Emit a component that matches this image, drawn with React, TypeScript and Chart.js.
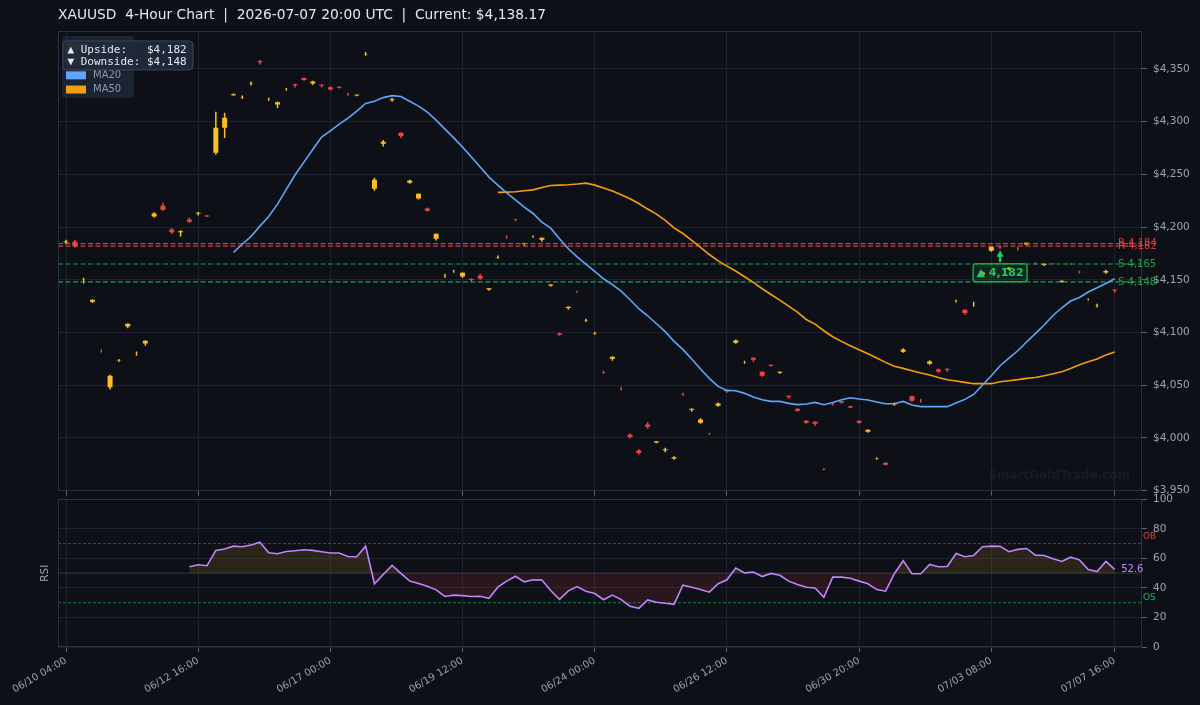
import React, { useEffect, useRef } from 'react';
import { Chart, registerables } from 'chart.js';

Chart.register(...registerables);
Chart.defaults.font.family = '"DejaVu Sans", sans-serif';

// ---------- colours ----------
const BG = '#0d1117';
const GRID = '#1c2230';
const FRAME = '#2a3240';
const TICK_MARK = '#5b6472';
const TICK_TEXT = '#9aa3b0';
const BULL = '#fbbf24';
const BEAR = '#ef4444';
const MA20_COLOR = '#60a5fa';
const MA50_COLOR = '#f59e0b';
const RSI_COLOR = '#c084fc';
const SUP = '#22c55e';

// ---------- text ----------
const TITLE = 'XAUUSD  4-Hour Chart  |  2026-07-07 20:00 UTC  |  Current: $4,138.17';
const WATERMARK = 'SmartGoldTrade.com';

// ---------- data ----------
const xTickIdx = [0, 15, 30, 45, 60, 75, 90, 105, 119];
const xTickLabels = ['06/10 04:00', '06/12 16:00', '06/17 00:00', '06/19 12:00', '06/24 00:00', '06/26 12:00', '06/30 20:00', '07/03 08:00', '07/07 16:00'];

const opens = [
  4185.3, 4186, 4149, 4129.2, 4082.5, 4048, 4073.5, 4105.8, 4080, 4089.7,
  4210, 4220.2, 4197.7, 4195, 4207.2, 4212.8, 4211, 4270.4, 4294.1, 4325,
  4323, 4336, 4357.2, 4321, 4316.3, 4330.5, 4335.5, 4341.5, 4336.1, 4335.2,
  4332.6, 4333.2, 4326, 4324.8, 4364, 4236.3, 4279, 4320.3, 4289.4, 4242,
  4227.1, 4217.6, 4189, 4153.8, 4158, 4153.2, 4151, 4153.8, 4140.7, 4171.5,
  4190.6, 4206.9, 4183.9, 4191, 4188, 4144.5, 4099, 4123.3, 4138.7, 4111.5,
  4099.4, 4062.5, 4075.2, 4047, 4003, 3988.2, 4012.9, 3995.6, 3988.3, 3980.6,
  4041.6, 4026.8, 4014.5, 4004.1, 4030.6, 4045.5, 4090.3, 4071.8, 4076.1, 4062.8,
  4069.5, 4061.9, 4040.1, 4027.8, 4016.4, 4015.5, 3970.3, 4032.2, 4035, 4030,
  4016.4, 4006, 3980.4, 3976.6, 4031.8, 4081.8, 4039.5, 4035.6, 4070.4, 4065,
  4065.7, 4129.8, 4121.6, 4127, 4155, 4177.5, 4181, 4160, 4179.5, 4183.5,
  4165.3, 4164, 4165.2, 4147.9, 4164.9, 4157.4, 4131.3, 4125.5, 4157, 4140.9,
];
const highs = [
  4188, 4188, 4152, 4131.3, 4084, 4060, 4075, 4108.5, 4082, 4092.5,
  4214, 4223, 4199, 4197, 4209, 4214.2, 4211.5, 4309.3, 4308.4, 4326.6,
  4324.7, 4338, 4358.4, 4322.6, 4319.1, 4332, 4336, 4341.7, 4338.7, 4335.3,
  4333.6, 4333.4, 4327.5, 4326, 4366, 4246.7, 4282.7, 4322.6, 4289.6, 4244.8,
  4231.8, 4218.6, 4193.8, 4155.7, 4159.5, 4157, 4151.3, 4155.7, 4142, 4173,
  4192, 4208, 4185.1, 4192, 4190, 4145.8, 4100, 4124.7, 4139.6, 4113,
  4100.8, 4063.8, 4077.3, 4048.6, 4004.4, 3989.2, 4014.8, 3997, 3990.8, 3982.6,
  4043, 4028, 4018.6, 4005, 4033.7, 4046, 4093.5, 4073.3, 4076.3, 4063,
  4069.8, 4063, 4040.3, 4028, 4016.6, 4015.7, 3971.3, 4033.6, 4035.3, 4030.6,
  4016.6, 4008, 3981.6, 3976.8, 4033.7, 4085, 4040.4, 4037.3, 4073.6, 4066,
  4066, 4131.1, 4121.8, 4129.2, 4158, 4181.5, 4182.6, 4162, 4181, 4185.3,
  4166.3, 4165.4, 4165.5, 4149.3, 4165.4, 4158.6, 4132.3, 4127.3, 4159.5, 4141,
];
const lows = [
  4183.6, 4180.7, 4146.6, 4128, 4081, 4046, 4072, 4104, 4078, 4087.5,
  4209, 4215.5, 4193.5, 4191, 4204, 4211, 4209.5, 4268.5, 4284.6, 4324.5,
  4321.6, 4334.2, 4354.3, 4319.7, 4313, 4329.2, 4332.3, 4338.7, 4335, 4332.3,
  4329.6, 4331.5, 4324.6, 4324, 4362.5, 4234.4, 4276.4, 4318.8, 4284.6, 4241,
  4226.2, 4214.5, 4187.3, 4152, 4156.7, 4152, 4148, 4150, 4139.6, 4170,
  4189, 4205.7, 4182.2, 4189.9, 4186, 4143.4, 4097, 4121.6, 4137.7, 4110,
  4098, 4061, 4073.3, 4045.1, 3999.6, 3984.2, 4008.8, 3994.9, 3986.4, 3979.4,
  4040.1, 4024.9, 4013.6, 4003.1, 4029.7, 4043, 4089.4, 4070.4, 4072.3, 4058.1,
  4067.6, 4061, 4037.3, 4024.9, 4013.6, 4011.7, 3969.3, 4030.7, 4032.5, 4028.4,
  4013.6, 4005, 3979.4, 3973.8, 4030.6, 4080.9, 4034.4, 4033.7, 4069.5, 4061.9,
  4062.8, 4128.6, 4116.9, 4124.7, 4154, 4176.6, 4179.4, 4159, 4177.8, 4182.6,
  4164.3, 4163, 4164.6, 4147.2, 4164.6, 4156, 4130.4, 4123.8, 4155.7, 4137.7,
];
const closes = [
  4186.3, 4182, 4149.1, 4131.1, 4082.4, 4059, 4073.6, 4108.3, 4080.1, 4092.2,
  4213, 4216.4, 4195.2, 4196, 4205, 4213.6, 4210, 4294.1, 4303.6, 4326,
  4323.1, 4336.1, 4356.4, 4321.1, 4318.5, 4330.6, 4334.5, 4339.5, 4338, 4334.2,
  4330.5, 4332.2, 4325.9, 4325.6, 4364.1, 4245, 4281, 4321.2, 4286.5, 4244.2,
  4231.6, 4215.4, 4193.6, 4153.9, 4158.1, 4156.7, 4150, 4151.3, 4141.9, 4171.6,
  4190.5, 4206.8, 4184.6, 4191.1, 4189.9, 4145.6, 4098, 4124.5, 4138.6, 4111.6,
  4099.5, 4062.4, 4077.1, 4046.9, 4001, 3985.8, 4010.7, 3996.8, 3989.2, 3981.8,
  4041.5, 4027.8, 4017.6, 4004, 4032.8, 4044, 4092.5, 4071.9, 4074.2, 4059,
  4068.6, 4062.8, 4039.1, 4025.9, 4014.5, 4013.6, 3970.2, 4032.1, 4033.6, 4029,
  4014.5, 4007.9, 3980.5, 3974.7, 4032.6, 4084, 4035.4, 4035.5, 4072.6, 4063.1,
  4064.7, 4129.9, 4118.5, 4127.1, 4157, 4181.3, 4180.9, 4161.5, 4179.4, 4185.1,
  4165.2, 4165.2, 4165.1, 4149.1, 4165.0, 4157.3, 4131.4, 4125.6, 4158.3, 4139.9,
];

const ma20Start = 19;
const ma20 = [
  4176, 4183.7, 4191.1, 4200.9, 4210, 4221.8, 4235.7, 4249.6, 4261.6, 4273.6,
  4285.3, 4291.3, 4297.6, 4303.3, 4310, 4317.2, 4319.4, 4322.8, 4324.7, 4323.8,
  4319.4, 4314.7, 4309, 4301.4, 4292.9, 4284.6, 4275.8, 4266.4, 4256.9, 4247.4,
  4239.8, 4232.5, 4225.9, 4219, 4212.9, 4204.7, 4199, 4188.9, 4179.4, 4171.8,
  4164.9, 4157.9, 4151, 4145.5, 4139.3, 4131.1, 4122.6, 4115.9, 4108.3, 4100.8,
  4091.6, 4084, 4074.9, 4065.4, 4056.5, 4048.9, 4045.1, 4044.8, 4042.3, 4038.9,
  4036.3, 4034.7, 4034.7, 4032.8, 4031.6, 4032.2, 4033.7, 4031.6, 4033.7, 4036.3,
  4038.2, 4037, 4036, 4034.1, 4032.5, 4032.5, 4034.7, 4031.3, 4029.7, 4029.7,
  4029.7, 4029.7, 4033.2, 4036.6, 4041.3, 4050.2, 4059, 4068.5, 4075.8, 4082.7,
  4091, 4098.9, 4107.1, 4116.2, 4123.5, 4129.9, 4133.3, 4138.4, 4142.5, 4146.5,
  4151,
];

const ma50Start = 49;
const ma50 = [
  4232.9, 4233.2, 4233.5, 4234.4, 4235.3, 4237.5, 4239.4, 4239.8, 4240.1, 4240.8,
  4241.7, 4239.8, 4237, 4234.2, 4230.6, 4226.8, 4222.4, 4217.1, 4212.3, 4206.3,
  4199.3, 4193.9, 4187.3, 4180.7, 4174, 4168, 4163, 4158.3, 4152.9, 4147.5,
  4141.5, 4136.1, 4130.8, 4125.1, 4119.4, 4112.4, 4108, 4101.7, 4096, 4091.6,
  4087.5, 4083.7, 4079.9, 4075.8, 4071.7, 4068, 4066, 4063.8, 4061.6, 4059.7,
  4057.4, 4055.3, 4054, 4052.7, 4051.5, 4051.5, 4051.5, 4053.4, 4054.3, 4055.3,
  4056.5, 4057.4, 4059, 4061, 4062.8, 4066, 4069.5, 4072.3, 4074.9, 4078.7,
  4081.5,
];

const rsiStart = 14;
const rsi = [
  54.3, 55.7, 55.0, 65.4, 66.3, 68.3, 67.9, 69.0, 71.0, 63.8,
  63.1, 64.7, 65.2, 65.8, 65.4, 64.5, 63.6, 63.6, 61.3, 61.1,
  68.3, 42.8, 49.1, 55.2, 49.8, 44.6, 43.0, 41.2, 38.7, 34.2,
  35.1, 34.8, 34.2, 34.4, 33.0, 40.5, 44.6, 47.9, 44.1, 45.5,
  45.3, 38.2, 32.3, 38.0, 40.9, 37.8, 36.2, 32.0, 35.1, 32.1,
  27.6, 26.2, 31.9, 30.3, 29.6, 28.9, 41.8, 40.5, 38.9, 37.1,
  42.8, 45.5, 53.4, 50.2, 50.7, 47.7, 49.8, 48.6, 44.6, 42.3,
  40.5, 40.0, 33.7, 47.3, 47.3, 46.6, 44.6, 42.8, 38.9, 37.8,
  49.6, 58.4, 49.7, 49.6, 55.9, 54.3, 54.5, 63.3, 61.1, 62.0,
  67.9, 68.3, 68.1, 64.5, 66.1, 66.7, 62.2, 62.0, 59.7, 57.9,
  60.8, 59.0, 52.5, 51.1, 57.9, 52.6,
];

const resistance = [4184.4, 4182.0];
const support = [4165.0, 4148.0];
const UPSIDE = 4182;
const DOWNSIDE = 4148;
const ARROW_IDX = 106;
const ARROW_TIP = 4178.0;
const ARROW_LABEL_PRICE = 4156.8;
const ARROW_LABEL_VALUE = 4182;
const OB_LEVEL = 70;
const OS_LEVEL = 30;
const MID_LEVEL = 50;

// ---------- layout (not data) ----------
const X_MIN = -0.91;
const X_MAX = 122.1;
const P_MIN = 3950;
const P_MAX = 4386;

const fmt = (v: number) => Math.round(v).toLocaleString('en-US');

const frame = (chart: any) => {
  const { ctx, chartArea: a } = chart;
  ctx.save();
  ctx.strokeStyle = FRAME;
  ctx.lineWidth = 1;
  ctx.strokeRect(Math.round(a.left) + 0.5, Math.round(a.top) + 0.5, Math.round(a.right - a.left) - 1, Math.round(a.bottom - a.top) - 1);
  ctx.restore();
};

const priceOverlay = {
  id: 'priceOverlay',
  beforeDatasetsDraw(chart: any) {
    const { ctx, chartArea: a } = chart;
    ctx.save();
    ctx.font = 'bold 12px "DejaVu Sans"';
    ctx.fillStyle = 'rgba(148,163,184,0.075)';
    ctx.textAlign = 'right';
    ctx.textBaseline = 'middle';
    ctx.fillText(WATERMARK, a.right - 12, a.bottom - 15);
    ctx.restore();
  },
  afterDraw(chart: any) {
    const { ctx, chartArea: a, scales } = chart;
    const xs = scales.x;
    const ys = scales.y;
    frame(chart);
    ctx.save();
    // level labels
    ctx.font = '10px "DejaVu Sans"';
    ctx.textAlign = 'left';
    ctx.textBaseline = 'middle';
    resistance.forEach((l) => {
      ctx.fillStyle = 'rgba(239,68,68,0.85)';
      ctx.fillText('R ' + fmt(l), a.right - 24, ys.getPixelForValue(l));
    });
    support.forEach((l) => {
      ctx.fillStyle = 'rgba(34,197,94,0.8)';
      ctx.fillText('S ' + fmt(l), a.right - 24, ys.getPixelForValue(l));
    });

    // arrow annotation
    const ax = xs.getPixelForValue(ARROW_IDX);
    const tipY = ys.getPixelForValue(ARROW_TIP);
    const by = ys.getPixelForValue(ARROW_LABEL_PRICE);
    const bw = 54;
    const bh = 18;
    ctx.beginPath();
    ctx.roundRect(ax - bw / 2, by - bh / 2, bw, bh, 3);
    ctx.fillStyle = 'rgba(22,163,74,0.16)';
    ctx.fill();
    ctx.strokeStyle = '#16a34a';
    ctx.lineWidth = 1.5;
    ctx.stroke();
    ctx.fillStyle = SUP;
    ctx.font = 'bold 11px "DejaVu Sans"';
    ctx.textAlign = 'center';
    ctx.fillText('▲ ' + fmt(ARROW_LABEL_VALUE), ax, by + 0.5);
    ctx.strokeStyle = SUP;
    ctx.lineWidth = 2.5;
    ctx.beginPath();
    ctx.moveTo(ax, by - bh / 2 - 1.5);
    ctx.lineTo(ax, tipY + 5.5);
    ctx.stroke();
    ctx.beginPath();
    ctx.moveTo(ax, tipY);
    ctx.lineTo(ax - 3.6, tipY + 6.5);
    ctx.lineTo(ax + 3.6, tipY + 6.5);
    ctx.closePath();
    ctx.fill();

    // legend
    const lx = a.left + 4;
    const ly = a.top + 5;
    ctx.beginPath();
    ctx.roundRect(lx, ly, 72, 62, 3);
    ctx.fillStyle = 'rgba(30,41,59,0.8)';
    ctx.fill();
    const items: [string, string][] = [
      ['Bullish', BULL],
      ['Bearish', BEAR],
      ['MA20', MA20_COLOR],
      ['MA50', MA50_COLOR],
    ];
    ctx.textAlign = 'left';
    ctx.font = '10px "DejaVu Sans"';
    items.forEach(([t, c], k) => {
      const cy = ly + 11 + k * 14.2;
      ctx.fillStyle = c;
      ctx.fillRect(lx + 4, cy - 4, 20, 8);
      ctx.fillStyle = '#8f99a8';
      ctx.fillText(t, lx + 31, cy);
    });

    // info box
    const ix = a.left + 5;
    const iy = a.top + 10;
    ctx.beginPath();
    ctx.roundRect(ix, iy, 130, 29, 4);
    ctx.fillStyle = 'rgba(31,42,58,0.96)';
    ctx.fill();
    ctx.strokeStyle = '#3a4658';
    ctx.lineWidth = 1;
    ctx.stroke();
    ctx.font = '11px "DejaVu Sans Mono"';
    ctx.fillStyle = '#e2e8f0';
    ctx.fillText('▲ Upside:   $' + fmt(UPSIDE), ix + 4.5, iy + 9);
    ctx.fillText('▼ Downside: $' + fmt(DOWNSIDE), ix + 4.5, iy + 21);
    ctx.restore();
  },
};

const rsiOverlay = {
  id: 'rsiOverlay',
  afterDraw(chart: any) {
    const { ctx, chartArea: a, scales } = chart;
    const xs = scales.x;
    const ys = scales.y;
    frame(chart);
    ctx.save();
    ctx.textAlign = 'left';
    ctx.textBaseline = 'middle';
    ctx.font = '9px "DejaVu Sans"';
    ctx.fillStyle = 'rgba(239,68,68,0.9)';
    ctx.fillText('OB', a.right + 1, ys.getPixelForValue(OB_LEVEL) - 6.5);
    ctx.fillStyle = 'rgba(34,197,94,0.9)';
    ctx.fillText('OS', a.right + 1, ys.getPixelForValue(OS_LEVEL) - 5.5);
    const lastIdx = rsiStart + rsi.length - 1;
    const last = rsi[rsi.length - 1];
    ctx.font = '10px "DejaVu Sans"';
    ctx.fillStyle = RSI_COLOR;
    ctx.fillText(last.toFixed(1), xs.getPixelForValue(lastIdx) + 6.5, ys.getPixelForValue(last));
    ctx.restore();
  },
};

const xAxisBase = {
  type: 'linear',
  min: X_MIN,
  max: X_MAX,
  offset: false,
  grid: { color: GRID, tickColor: TICK_MARK, tickLength: 5, offset: false },
  border: { display: false },
  afterBuildTicks: (s: any) => {
    s.ticks = xTickIdx.map((v) => ({ value: v }));
  },
};

const hLine = (level: number, color: string, dash: number[], width: number, order: number) => ({
  type: 'line',
  data: [
    { x: X_MIN, y: level },
    { x: X_MAX, y: level },
  ],
  borderColor: color,
  borderDash: dash,
  borderWidth: width,
  pointRadius: 0,
  fill: false,
  order,
});

function priceConfig(): any {
  const candleColors = opens.map((o, i) => (closes[i] >= o ? BULL : BEAR));
  return {
    type: 'bar',
    data: {
      datasets: [
        {
          type: 'line',
          label: 'MA20',
          data: ma20.map((v, k) => ({ x: k + ma20Start, y: v })),
          borderColor: MA20_COLOR,
          borderWidth: 1.6,
          pointRadius: 0,
          order: 0,
        },
        {
          type: 'line',
          label: 'MA50',
          data: ma50.map((v, k) => ({ x: k + ma50Start, y: v })),
          borderColor: MA50_COLOR,
          borderWidth: 1.6,
          pointRadius: 0,
          order: 1,
        },
        ...resistance.map((l) => hLine(l, 'rgba(239,68,68,0.85)', [5, 2.5], 1.2, 2)),
        ...support.map((l) => hLine(l, 'rgba(34,197,94,0.8)', [5, 2.5], 1.2, 2)),
        {
          type: 'bar',
          label: 'Body',
          data: opens.map((o, i) => ({ x: i, y: [o, closes[i]] })),
          backgroundColor: candleColors,
          barThickness: 5,
          grouped: false,
          inflateAmount: 0,
          order: 3,
        },
        {
          type: 'bar',
          label: 'Wick',
          data: lows.map((l, i) => ({ x: i, y: [l, highs[i]] })),
          backgroundColor: candleColors,
          barThickness: 1.5,
          grouped: false,
          inflateAmount: 0,
          order: 4,
        },
      ],
    },
    options: {
      responsive: false,
      animation: false,
      events: [],
      layout: { padding: { left: 58, right: 0, top: 0, bottom: 0 } },
      plugins: {
        legend: { display: false },
        tooltip: { enabled: false },
        title: {
          display: true,
          text: TITLE,
          align: 'start',
          color: '#e5e7eb',
          font: { family: '"DejaVu Sans"', size: 13.8, weight: 'normal' },
          padding: { top: 7.2, bottom: 7.2 },
        },
      },
      scales: {
        x: {
          ...xAxisBase,
          ticks: { display: false },
          afterFit: (s: any) => {
            s.height = 12;
          },
        },
        y: {
          position: 'right',
          min: P_MIN,
          max: P_MAX,
          beginAtZero: false,
          grid: { color: GRID, tickColor: TICK_MARK, tickLength: 5 },
          border: { display: false },
          ticks: {
            stepSize: 50,
            color: TICK_TEXT,
            padding: 6,
            font: { size: 10.5 },
            callback: (v: number) => '$' + Number(v).toLocaleString('en-US'),
          },
          afterBuildTicks: (s: any) => {
            s.ticks = s.ticks.filter((t: any) => t.value % 50 === 0);
          },
          afterFit: (s: any) => {
            s.width = 58;
          },
        },
      },
    },
    plugins: [priceOverlay],
  };
}

function rsiConfig(): any {
  return {
    type: 'line',
    data: {
      datasets: [
        {
          label: 'RSI',
          data: rsi.map((v, k) => ({ x: k + rsiStart, y: v })),
          borderColor: RSI_COLOR,
          borderWidth: 1.6,
          pointRadius: 0,
          fill: { value: MID_LEVEL, above: 'rgba(251,191,36,0.12)', below: 'rgba(239,68,68,0.13)' },
          order: 0,
        },
        hLine(OB_LEVEL, 'rgba(239,68,68,0.6)', [3, 2], 1, 1),
        hLine(OS_LEVEL, 'rgba(34,197,94,0.6)', [3, 2], 1, 2),
        hLine(MID_LEVEL, '#303846', [], 1, 3),
      ],
    },
    options: {
      responsive: false,
      animation: false,
      events: [],
      layout: { padding: { left: 0, right: 0, top: 0, bottom: 0 } },
      plugins: { legend: { display: false }, tooltip: { enabled: false } },
      scales: {
        x: {
          ...xAxisBase,
          ticks: {
            display: true,
            autoSkip: false,
            minRotation: 30,
            maxRotation: 30,
            padding: 3,
            color: TICK_TEXT,
            font: { size: 10 },
            callback: (_v: number, i: number) => xTickLabels[i],
          },
          afterFit: (s: any) => {
            s.height = 58;
          },
        },
        y: {
          position: 'right',
          min: 0,
          max: 100,
          grid: { color: GRID, tickColor: TICK_MARK, tickLength: 5 },
          border: { display: false },
          ticks: { stepSize: 20, color: TICK_TEXT, padding: 6, font: { size: 10.5 } },
          afterFit: (s: any) => {
            s.width = 58;
          },
        },
        yl: {
          position: 'left',
          display: true,
          grid: { display: false, drawTicks: false },
          border: { display: false },
          ticks: { display: false },
          title: {
            display: true,
            text: 'RSI',
            color: TICK_TEXT,
            font: { size: 10.5 },
            padding: { top: 39, bottom: 0 },
          },
          afterFit: (s: any) => {
            s.width = 58;
          },
        },
      },
    },
    plugins: [rsiOverlay],
  };
}

export default function App() {
  const priceRef = useRef<HTMLCanvasElement>(null);
  const rsiRef = useRef<HTMLCanvasElement>(null);

  useEffect(() => {
    const c1 = new Chart(priceRef.current as HTMLCanvasElement, priceConfig());
    const c2 = new Chart(rsiRef.current as HTMLCanvasElement, rsiConfig());
    return () => {
      c1.destroy();
      c2.destroy();
    };
  }, []);

  return (
    <div style={{ position: 'fixed', left: 0, top: 0, width: 1200, height: 705, background: BG, overflow: 'hidden' }}>
      <canvas ref={priceRef} width={1200} height={503} style={{ position: 'absolute', left: 0, top: 0 }} />
      <canvas ref={rsiRef} width={1200} height={218} style={{ position: 'absolute', left: 0, top: 487 }} />
    </div>
  );
}
